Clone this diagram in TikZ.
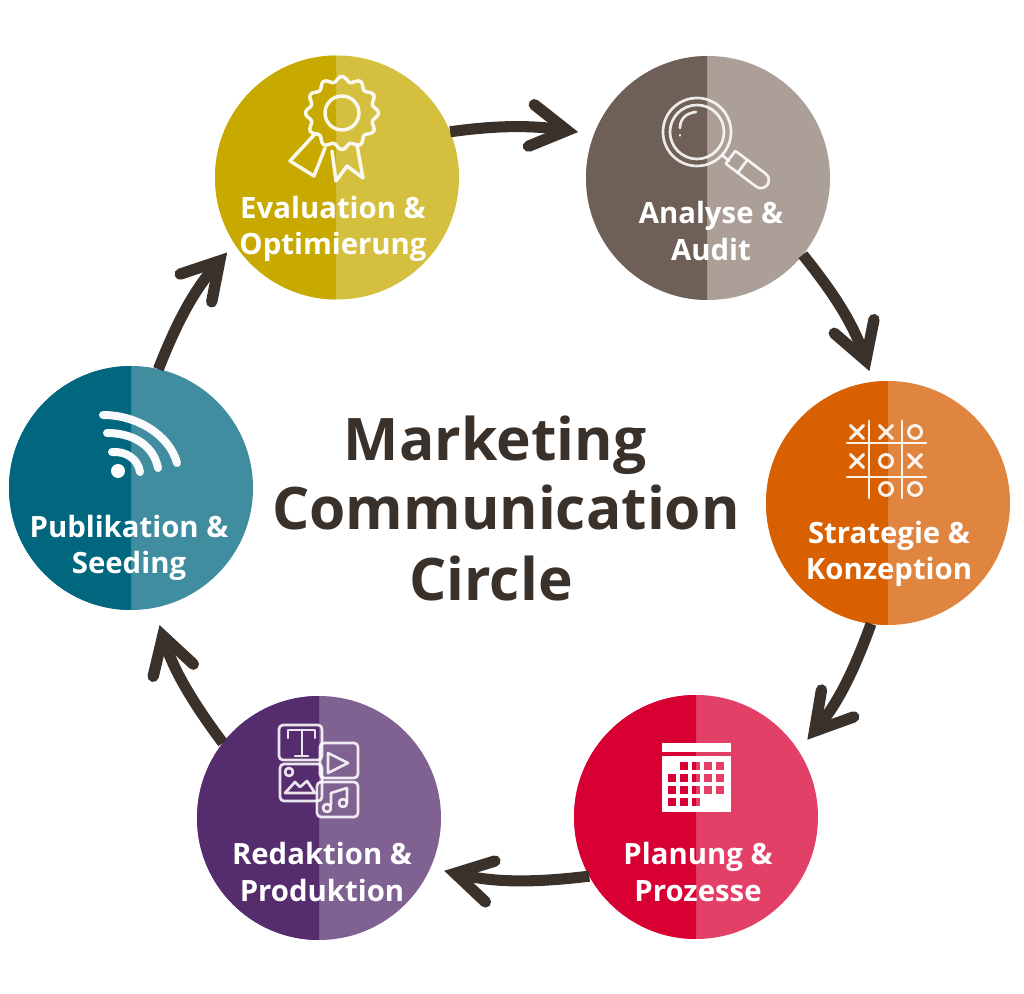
\documentclass[tikz,border=0pt]{standalone}
\usepackage{fontspec}
\setmainfont{Open Sans}
\usetikzlibrary{arrows.meta}
\definecolor{ink}{HTML}{3A312B}
\pgfdeclarearrow{
  name=Chev,
  setup code={\pgfarrowssettipend{8.5pt}\pgfarrowssetlineend{-4pt}\pgfarrowssetbackend{-27pt}\pgfarrowssetvisualbackend{-31pt}},
  drawing code={
    \pgfsetdash{}{0pt}
    \pgfsetlinewidth{8.5pt}
    \pgfsetmiterjoin
    \pgfsetmiterlimit{10}
    \pgfsetroundcap
    \pgfpathmoveto{\pgfpoint{-27pt}{15.75pt}}
    \pgfpathlineto{\pgfpoint{0pt}{0pt}}
    \pgfpathlineto{\pgfpoint{-27pt}{-15.75pt}}
    \pgfusepathqstroke
  }
}
\tikzset{
  x=0.75pt,y=0.75pt,
  disc/.style={circle,minimum size=183pt,inner sep=0pt,outer sep=0pt},
  lbl/.style={text=white,font=\fontsize{22}{27.5}\selectfont\bfseries,align=center,inner sep=0pt},
  ttl/.style={text=ink,font=\fontsize{44}{53}\selectfont\bfseries,inner sep=0pt,anchor=base},
  flow/.style={draw=ink,line width=8.3pt,-{Chev}},
  ico/.style={draw=white,line width=2.2pt,line cap=round,line join=round,opacity=.92},
  icosoft/.style={draw=white,line width=2pt,line cap=round,line join=round,opacity=.88},
  wifi/.style={draw=white,line width=6pt,line cap=round,opacity=.97}
}
\newcommand{\halfdisc}[6]{% name, cx, cy(up), split, dark, light
  \node[disc,fill=#6] (#1) at (#2,#3) {};
  \begin{scope}
    \clip (#4-200,#3-200) rectangle (#4,#3+200);
    \fill[#5] (#2,#3) circle (91.5pt);
  \end{scope}
}
\begin{document}
\begin{tikzpicture}
\useasboundingbox[fill=white] (0,0) rectangle (1024,993);
\definecolor{c1a}{HTML}{C8A900}\definecolor{c1b}{HTML}{D4BF3F}
\definecolor{c2a}{HTML}{6F6057}\definecolor{c2b}{HTML}{AB9F97}
\definecolor{c3a}{HTML}{D86000}\definecolor{c3b}{HTML}{E08540}
\definecolor{c4a}{HTML}{D80032}\definecolor{c4b}{HTML}{E24066}
\definecolor{c5a}{HTML}{552D6E}\definecolor{c5b}{HTML}{7F6192}
\definecolor{c6a}{HTML}{00677F}\definecolor{c6b}{HTML}{408DA0}
\halfdisc{eval}{337}{815.5}{336}{c1a}{c1b}
\halfdisc{anal}{708}{815}{707}{c2a}{c2b}
\halfdisc{stra}{888}{490}{888}{c3a}{c3b}
\halfdisc{plan}{696}{176}{696}{c4a}{c4b}
\halfdisc{reda}{319}{175}{319}{c5a}{c5b}
\halfdisc{publ}{131}{505}{131}{c6a}{c6b}
% arrows
\draw[flow,shorten >=12pt] (eval.22) to[out=8,in=172] (anal.159);
\draw[flow,shorten >=8.5pt] (anal.-39) to[bend left=10] (stra.97);
\draw[flow,shorten >=10.5pt] (stra.-98) to[bend left=10] (plan.33);
\draw[flow,shorten >=10.5pt] (plan.209) to[bend left=10] (reda.-24);
\draw[flow,shorten >=13.5pt] (reda.142) to[bend left=10] (publ.-79);
\draw[flow,shorten >=8.5pt] (publ.77) to[bend left=10] (eval.213);
% title
\node[ttl] (title1) at (495,532.5) {Marketing};
\node[ttl] (title2) at (506,463) {Communication};
\node[ttl] (title3) at (491,392) {Circle};
% labels
\node[lbl] (t1) at (333,764) {Evaluation \&\\Optimierung};
\node[lbl] (t2) at (711,762) {Analyse \&\\Audit};
\node[lbl] (t3) at (889,439) {Strategie \&\\Konzeption};
\node[lbl] (t4) at (698,121) {Planung \&\\Prozesse};
\node[lbl] (t5) at (322,121) {Redaktion \&\\Produktion};
\node[lbl] (t6) at (129,445) {Publikation \&\\Seeding};
% rosette
\begin{scope}[shift={(342,880)},y=-0.75pt]
  \draw[ico,line width=2.6pt] plot[smooth cycle,samples=96,domain=0:356.25] (\x:{34+2.6*cos(12*\x)});
  \draw[ico,line width=2.6pt] (0,0) circle (17);
  \draw[ico,line width=2.6pt] (-28,22) -- (-52,48) -- (-28,63) -- (-17,35);
  \draw[ico,line width=2.6pt] (-10,38) -- (-6,68) -- (5,53) -- (21,65) -- (15,32);
\end{scope}
% magnifier
\begin{scope}[shift={(697,861)},y=-0.75pt]
  \draw[icosoft] (0,0) circle (34);
  \draw[icosoft] (0,0) circle (27);
  \draw[icosoft] (-17,-4) .. controls (-17,-14) and (-10,-19) .. (-1,-20);
  \draw[icosoft] (-17,3) -- (-17,3.5);
  \draw[icosoft] (25,23) -- (32,29);
\end{scope}
\begin{scope}[shift={(697,861)},rotate=-37]
  \draw[icosoft] (42,-8) -- (80,-8) arc[start angle=-90,end angle=90,radius=8] -- (42,8) -- cycle;
  \draw[icosoft] (57,-8) -- (57,8);
\end{scope}
% tic tac toe
\begin{scope}[shift={(886,533)},y=-0.75pt]
  \draw[ico] (-39,-17) -- (40,-17) (-39,17) -- (40,17) (-17,-39) -- (-17,38) (16,-39) -- (16,38);
  \foreach \p in {(-29,-28),(0,-28),(-29,1),(29,1)}
    \draw[ico] \p ++(-6.5,-6.5) -- ++(13,13) ++(-13,0) -- ++(13,-13);
  \foreach \p in {(29,-28),(0,1),(0,29),(29,29)}
    \draw[ico] \p circle (6.5);
\end{scope}
% calendar
\fill[white] (662,993-752) rectangle (731,993-743);
\fill[white] (662,993-812) rectangle (731,993-756);
\foreach \xx/\yy in {680/762,692/762,704/762,716/762,
    668/774,680/774,692/774,704/774,716/774,
    668/786,680/786,692/786,704/786,716/786,
    668/798,680/798,692/798}{
  \begin{scope}
    \clip (0,0) rectangle (696,993);
    \fill[c4a] (\xx,993-\yy) rectangle ++(8,-8);
  \end{scope}
  \begin{scope}
    \clip (696,0) rectangle (1024,993);
    \fill[c4b] (\xx,993-\yy) rectangle ++(8,-8);
  \end{scope}
}
% media tiles
\begin{scope}[shift={(265,278)},y=-0.75pt]
  \draw[icosoft,rounded corners=3pt] (14,10) rectangle (57,45);
  \draw[icosoft] (23,23) -- (23,15) -- (50,15) -- (50,23) (37,15) -- (37,41) (30,41) -- (43,41);
  \draw[icosoft,rounded corners=3pt] (15,49) rectangle (57,86);
  \draw[icosoft] (24,57) circle (4);
  \draw[icosoft] (20,78) -- (30,67) -- (35,72) -- (42,66) -- (50,78) -- cycle;
  \draw[icosoft,rounded corners=3pt] (55,28) rectangle (93,63);
  \draw[icosoft] (63,38) -- (83,48) -- (63,58) -- cycle;
  \draw[icosoft,rounded corners=3pt] (52,67) rectangle (93,102);
  \draw[icosoft] (66,90) -- (66,78) -- (82,73) -- (82,87);
  \draw[icosoft] (62,93) circle (4) (78,88) circle (4);
\end{scope}
% wifi
\begin{scope}[shift={(118,522)},y=-0.75pt]
  \fill[white] (0,0) circle (7);
  \draw[wifi] (-6,-19) .. controls (8,-20) and (20,-12) .. (22,1);
  \draw[wifi] (-11,-38) .. controls (12,-38) and (35,-28) .. (40,-3);
  \draw[wifi] (-15,-56) .. controls (20,-56) and (52,-35) .. (59,-8);
\end{scope}
\end{tikzpicture}
\end{document}
